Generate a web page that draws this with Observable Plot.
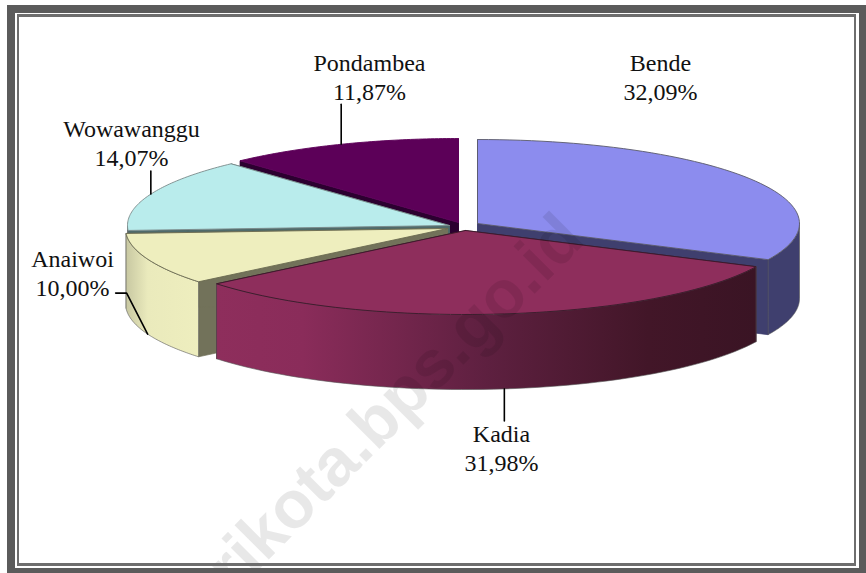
<!DOCTYPE html>
<html>
<head>
<meta charset="utf-8">
<script src="https://cdn.jsdelivr.net/npm/d3@7"></script>
<script src="https://cdn.jsdelivr.net/npm/@observablehq/plot@0.6"></script>
<style>
html,body{margin:0;padding:0;background:#fff;}
#wrap{position:relative;width:866px;height:573px;overflow:hidden;}
.f{position:absolute;box-sizing:border-box;z-index:2;}
#outer{left:7px;top:5px;right:0;bottom:0;border:solid #5b5b5b;border-width:8px 7px 5px 8px;}
#inner{left:17px;top:14px;width:839px;height:552px;border:solid #6e6e6e;border-width:3px 2px;}
svg{position:absolute;left:0;top:0;z-index:1;background:transparent!important;}
</style>
</head>
<body>
<div id="wrap"><div class="f" id="outer"></div><div class="f" id="inner"></div></div>
<script>
// Data (clockwise from 12 o'clock)
const names  = ["Bende", "Kadia", "Anaiwoi", "Wowawanggu", "Pondambea"];
const shares = [32.09, 31.98, 10.00, 14.07, 11.87];
const shareLabels = ["32,09%", "31,98%", "10,00%", "14,07%", "11,87%"];

// Styles
const topColors  = ["#8c8cee", "#8e2e5c", "#eeeebe", "#b9ecec", "#5c0058"];
const wallColors = ["#3f3f6e", "#3c1426", "#72725a", "#4f6a6a", "#2c0030"];
const rimColors  = ["#5a5a6a", "#3a1a2a", "#6a6a50", "#7a8a8a", "#5c0058"];

// 3D-pie layout
const RX = 322, RY = 84, DEPTH = 75;
const cxs = [477, 465, 447, 449, 458];
const cys = [223, 230, 228, 225, 222];
const labelX = [660, 501, 72, 131, 369];
const labelY = [50, 421, 246, 116, 50];

const total = d3.sum(shares);
let acc = 0;
const slices = names.map((name, i) => {
  const a0 = acc / total * 2 * Math.PI;
  acc += shares[i];
  const a1 = acc / total * 2 * Math.PI;
  return {i, name, a0, a1, mid: (a0 + a1) / 2, cx: cxs[i], cy: cys[i]};
});
const pt = (s, a, d = 0) => ({x: s.cx + RX * Math.sin(a), y: s.cy - RY * Math.cos(a) + d});
const arc = (s, a0, a1, d = 0) => d3.range(0, 61).map(k => pt(s, a0 + (a1 - a0) * k / 60, d));
const apex = (s, d = 0) => ({x: s.cx, y: s.cy + d});

const poly = (pts, fill, stroke, strokeWidth = 0.7) =>
  Plot.line([...pts, pts[0]], {x: "x", y: "y", fill, stroke, strokeWidth, curve: "linear"});

function sliceMarks(s, outerFill) {
  const c = s.i;
  const marks = [];
  // flat cut walls
  for (const a of [s.a0, s.a1]) {
    marks.push(poly([apex(s), pt(s, a), pt(s, a, DEPTH), apex(s, DEPTH)], wallColors[c], wallColors[c]));
  }
  // outer curved wall (only the part on the visible front half and side)
  const lo = Math.max(s.a0, Math.PI / 2), hi = Math.min(s.a1, 3 * Math.PI / 2);
  if (hi > lo) {
    marks.push(poly([...arc(s, lo, hi), ...arc(s, lo, hi, DEPTH).reverse()], outerFill, "#555", 0.6));
  }
  marks.push(poly([apex(s), ...arc(s, s.a0, s.a1)], topColors[c], rimColors[c], 0.9));
  return marks;
}

const gradient = (id, stops) => () => {
  const defs = d3.create("svg:defs");
  const g = defs.append("linearGradient").attr("id", id);
  stops.forEach(([o, col]) => g.append("stop").attr("offset", o).attr("stop-color", col));
  return defs.node();
};

const leaderPoints = [];
const leader = (i, extra) => {
  const s = slices[i];
  const d = (i === 1 || i === 2) ? DEPTH : 0;
  const p = pt(s, s.mid, d);
  [p, ...extra.map(([dx, dy]) => ({x: p.x + dx, y: p.y + dy}))].forEach(q => leaderPoints.push({...q, i}));
};
leader(1, [[0, 32]]);
leader(2, [[-21, -41], [-32, -41]]);
leader(3, [[0, -23]]);
leader(4, [[0, -40]]);

const labels = slices.map((s, i) => ({text: `${s.name}\n${shareLabels[i]}`, x: labelX[i], y: labelY[i]}));

const chart = Plot.plot({
  width: 866, height: 573, margin: 0,
  x: {domain: [0, 866], range: [0, 866], axis: null},
  y: {domain: [0, 573], range: [0, 573], axis: null},
  marks: [
    gradient("kadiaWall", [[0, "#8e2e5c"], [0.16, "#8a2c5a"], [0.5, "#5e2040"], [0.8, "#421628"], [1, "#3a1424"]]),
    gradient("anaiwoiWall", [[0, "#c8c8a2"], [0.3, "#eaeabc"], [1, "#eeeebe"]]),
    ...sliceMarks(slices[4], wallColors[4]),
    ...sliceMarks(slices[3], "#9cc8c8"),
    ...sliceMarks(slices[2], "url(#anaiwoiWall)"),
    ...sliceMarks(slices[0], wallColors[0]),
    ...sliceMarks(slices[1], "url(#kadiaWall)"),
    Plot.line(leaderPoints, {x: "x", y: "y", z: "i", stroke: "#000", strokeWidth: 1.6, curve: "linear"}),
    Plot.text(labels, {
      x: "x", y: "y", text: "text", lineAnchor: "top", lineHeight: 1.2,
      fontFamily: "Liberation Serif", fontSize: 24, fill: "#111"
    }),
    Plot.text(["rikota.bps.go.id"], {
      x: () => 571, y: () => 226, text: d => d, rotate: -45, textAnchor: "end",
      fontFamily: "Liberation Sans", fontWeight: "bold", fontSize: 67,
      fill: "#000", fillOpacity: 0.09
    })
  ]
});
document.getElementById("wrap").appendChild(chart);
</script>
</body>
</html>
